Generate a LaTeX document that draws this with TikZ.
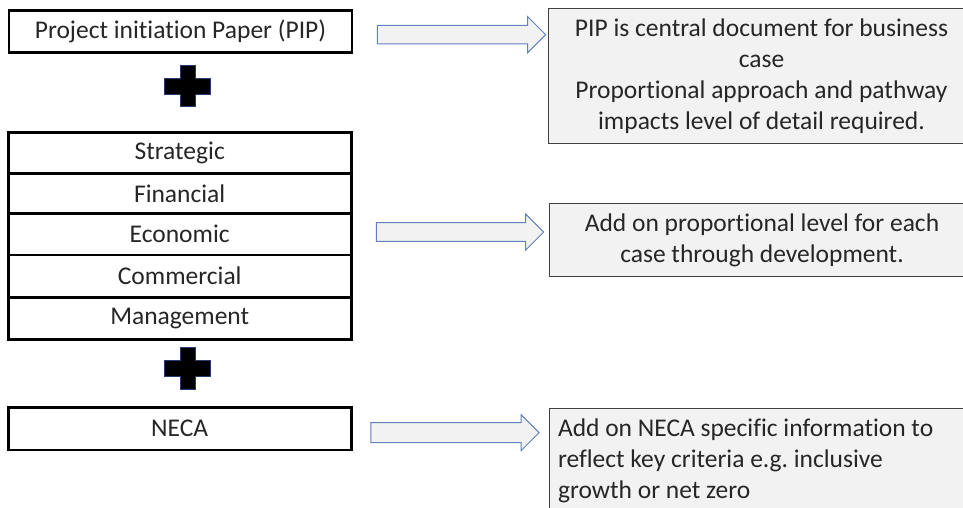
\documentclass[tikz,border=0pt]{standalone}
\usepackage{fontspec}
\setmainfont{Carlito}[Ligatures=NoCommon]
\frenchspacing
\usetikzlibrary{shapes.arrows}
\definecolor{arrowblue}{RGB}{98,128,188}
\definecolor{notegray}{RGB}{242,242,242}
\definecolor{noteline}{RGB}{64,64,64}
\definecolor{plusline}{RGB}{40,60,110}
\tikzset{
  txt/.style={font={\fontsize{25.5pt}{31pt}\selectfont}, text=black!85},
  leftbox/.style={txt, draw=black, line width=2.7pt, fill=white, inner sep=0pt, minimum width=343pt},
  notebox/.style={txt, draw=noteline, line width=1pt, fill=notegray, inner sep=0pt, minimum width=426pt},
  blockarrow/.style={single arrow, draw=arrowblue, line width=1pt, fill=notegray, inner xsep=0pt, inner ysep=8.8pt,
     single arrow head extend=8.8pt, single arrow head indent=0pt, single arrow tip angle=90, shape border rotate=0},
  plusmark/.style={fill=black, draw=plusline, line width=1pt}
}
\begin{document}
\begin{tikzpicture}[x=1pt,y=-1pt]
\useasboundingbox (0,0) rectangle (963,508);
% left column
\node[leftbox, minimum height=41.7pt] (pip) at (180.5,31.5) {Project initiation Paper (PIP)};
\node[leftbox, minimum height=40.6pt] (strat) at (179.7,153) {Strategic};
\node[leftbox, minimum height=40pt] (fin) at (179.7,193.3) {Financial};
\node[leftbox, minimum height=41.7pt] (eco) at (179.7,234.2) {Economic};
\node[leftbox, minimum height=42.3pt] (com) at (179.7,276.2) {Commercial};
\node[leftbox, minimum height=42pt] (man) at (179.7,318.3) {Management};
\node[leftbox, minimum height=42.3pt] (neca) at (179.7,428.8) {NECA};
% plus signs
\draw[plusmark] (180.3,65.7) -- (195.7,65.7) -- (195.7,78.7) -- (210.7,78.7) -- (210.7,94.3) -- (195.7,94.3)
  -- (195.7,106.7) -- (180.3,106.7) -- (180.3,94.3) -- (164.3,94.3) -- (164.3,78.7) -- (180.3,78.7) -- cycle;
\draw[plusmark] (180.3,347.7) -- (195.7,347.7) -- (195.7,360) -- (210.7,360) -- (210.7,376) -- (195.7,376)
  -- (195.7,389.3) -- (180.3,389.3) -- (180.3,376) -- (164.3,376) -- (164.3,360) -- (180.3,360) -- cycle;
% notes
\node[notebox, minimum height=135pt, align=center] (n1) at (761.5,75.8)
  {PIP is central document for business\\case\\Proportional approach and pathway\\impacts level of detail required.};
\node[notebox, minimum height=72.7pt, align=center] (n2) at (762,240.3)
  {Add on proportional level for each\\case through development.};
\node[notebox, minimum height=106pt, align=flush left, text width=408pt, inner xsep=9pt] (n3) at (762,461.3)
  {Add on NECA specific information to\\reflect key criteria e.g. inclusive\\growth or net zero};
% arrows
\node[blockarrow, minimum height=168.3pt] (a1) at (456.9,34.7) {};
\node[blockarrow, minimum height=167.3pt] (a2) at (455.4,232) {};
\node[blockarrow, minimum height=168.3pt, inner ysep=9.5pt, single arrow head extend=8pt] (a3) at (449.9,432.7) {};
\end{tikzpicture}
\end{document}
